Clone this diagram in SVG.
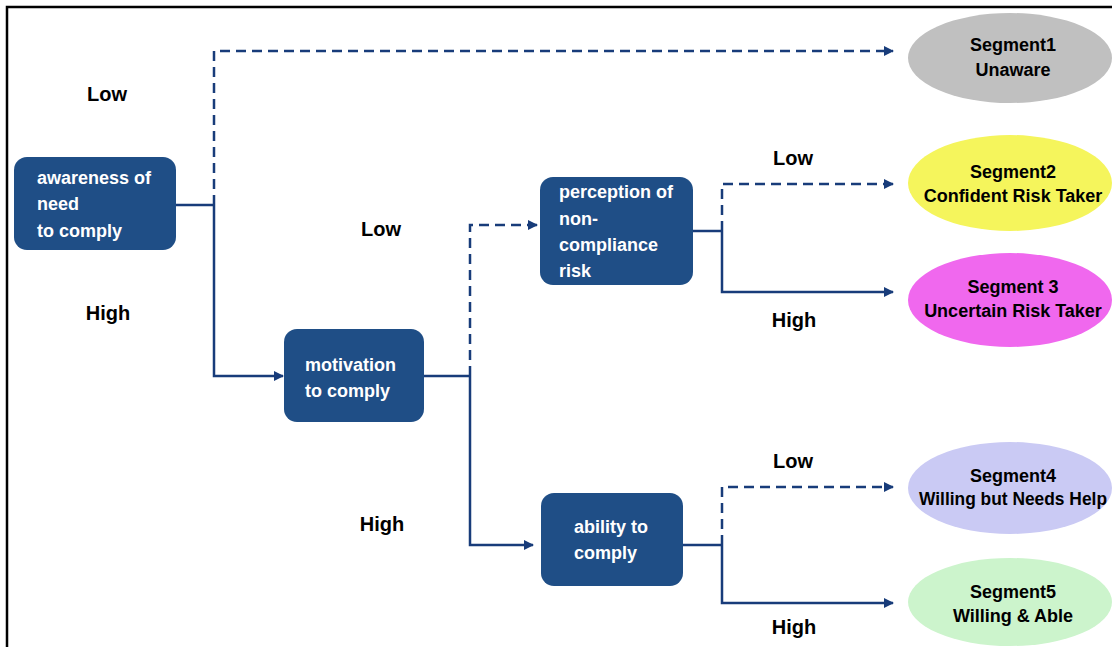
<svg xmlns="http://www.w3.org/2000/svg" width="1112" height="647" viewBox="0 0 1112 647">
<style>
.node{fill:#1f4e86;}
.nt{font-family:"Liberation Sans",Arial,sans-serif;font-size:18px;font-weight:bold;fill:#ffffff;}
.lbl{font-family:"Liberation Sans",Arial,sans-serif;font-size:20px;font-weight:bold;fill:#000000;text-anchor:middle;}
.seg{font-family:"Liberation Sans",Arial,sans-serif;font-size:18px;font-weight:bold;fill:#000000;text-anchor:middle;}
.solid{fill:none;stroke:#183c7a;stroke-width:2.5;}
.dash{fill:none;stroke:#183c7a;stroke-width:2.5;stroke-dasharray:10 6;}
</style>
<defs>
<marker id="arr" viewBox="0 0 10 10" refX="9" refY="5" markerWidth="10" markerHeight="10" markerUnits="userSpaceOnUse" orient="auto">
<path d="M0,0 L10,5 L0,10 Z" fill="#183c7a"/>
</marker>
</defs>
<rect width="1112" height="647" fill="#ffffff"/>
<path d="M7,647 V7 H1112" fill="none" stroke="#000000" stroke-width="2.5"/>

<g id="connectors">
<path class="solid" d="M176,205 H214"/>
<path class="dash" d="M214,205 V51 H893" marker-end="url(#arr)"/>
<path class="solid" d="M214,205 V376 H283" marker-end="url(#arr)"/>
<path class="solid" d="M424,376 H470"/>
<path class="dash" d="M470,376 V225 H537" marker-end="url(#arr)"/>
<path class="solid" d="M470,376 V545 H533" marker-end="url(#arr)"/>
<path class="solid" d="M693,231 H722"/>
<path class="dash" d="M722,231 V184 H893" marker-end="url(#arr)"/>
<path class="solid" d="M722,231 V292 H893" marker-end="url(#arr)"/>
<path class="solid" d="M683,545 H722"/>
<path class="dash" d="M722,545 V487 H893" marker-end="url(#arr)"/>
<path class="solid" d="M722,545 V603 H893" marker-end="url(#arr)"/>
</g>

<g id="labels">
<text class="lbl" x="107" y="101">Low</text>
<text class="lbl" x="108" y="320">High</text>
<text class="lbl" x="381" y="236">Low</text>
<text class="lbl" x="382" y="531">High</text>
<text class="lbl" x="793" y="165">Low</text>
<text class="lbl" x="794" y="327">High</text>
<text class="lbl" x="793" y="468">Low</text>
<text class="lbl" x="794" y="634">High</text>
</g>

<g id="awareness">
<rect class="node" x="14" y="157" width="162" height="93" rx="13"/>
<text class="nt" x="37" y="184">awareness of</text>
<text class="nt" x="37" y="210">need</text>
<text class="nt" x="37" y="237">to comply</text>
</g>
<g id="motivation">
<rect class="node" x="284" y="329" width="140" height="93" rx="13"/>
<text class="nt" x="305" y="371">motivation</text>
<text class="nt" x="305" y="397">to comply</text>
</g>
<g id="perception">
<rect class="node" x="540" y="177" width="153" height="108" rx="13"/>
<text class="nt" x="559" y="198">perception of</text>
<text class="nt" x="559" y="225">non-</text>
<text class="nt" x="559" y="251">compliance</text>
<text class="nt" x="559" y="277">risk</text>
</g>
<g id="ability">
<rect class="node" x="541" y="493" width="142" height="93" rx="13"/>
<text class="nt" x="574" y="533">ability to</text>
<text class="nt" x="574" y="559">comply</text>
</g>

<g id="segment1">
<ellipse cx="1010" cy="58" rx="102" ry="45" fill="#c0c0c0"/>
<text class="seg" x="1013" y="51">Segment1</text>
<text class="seg" x="1013" y="76">Unaware</text>
</g>
<g id="segment2">
<ellipse cx="1010" cy="183" rx="102" ry="48" fill="#f5f55c"/>
<text class="seg" x="1013" y="178">Segment2</text>
<text class="seg" x="1013" y="202">Confident Risk Taker</text>
</g>
<g id="segment3">
<ellipse cx="1010" cy="300" rx="102" ry="47" fill="#f068ee"/>
<text class="seg" x="1013" y="293">Segment 3</text>
<text class="seg" x="1013" y="317">Uncertain Risk Taker</text>
</g>
<g id="segment4">
<ellipse cx="1010" cy="488" rx="102" ry="46" fill="#cacaf4"/>
<text class="seg" x="1013" y="482">Segment4</text>
<text class="seg" x="1013" y="505" textLength="188" lengthAdjust="spacingAndGlyphs">Willing but Needs Help</text>
</g>
<g id="segment5">
<ellipse cx="1010" cy="602" rx="102" ry="44" fill="#ccf4cc"/>
<text class="seg" x="1013" y="598">Segment5</text>
<text class="seg" x="1013" y="622">Willing &amp; Able</text>
</g>
</svg>
